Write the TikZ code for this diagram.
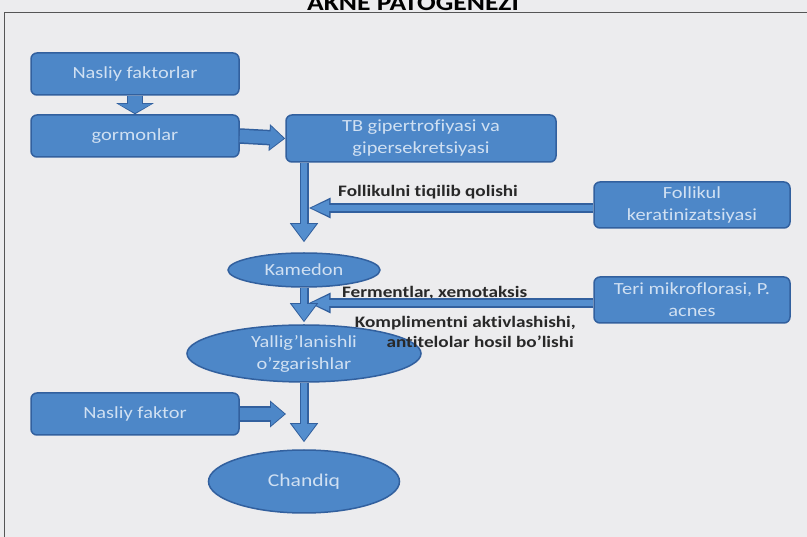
\documentclass[tikz,border=0pt]{standalone}
\usepackage{fontspec}
\setmainfont{Carlito}
\newfontfamily\sfw[FakeStretch=1.2,Ligatures=NoCommon]{Carlito}
\usetikzlibrary{shapes.geometric,arrows.meta}
\definecolor{bg}{RGB}{236,236,238}
\definecolor{boxfill}{RGB}{77,135,200}
\definecolor{boxline}{RGB}{50,96,158}
\definecolor{boxtext}{RGB}{208,224,242}
\definecolor{arrfill}{RGB}{84,142,206}
\definecolor{labeltext}{RGB}{40,40,40}
\definecolor{framecol}{RGB}{85,85,85}
\tikzset{
  bluebox/.style={draw=boxline, line width=1.5pt, fill=boxfill, rounded corners=6pt,
    text=boxtext, font=\sfw\fontsize{17}{22}\selectfont, align=center, inner sep=0pt},
  blueell/.style={ellipse, draw=boxline, line width=1.5pt, fill=boxfill,
    text=boxtext, font=\sfw\fontsize{17}{22}\selectfont, align=center, inner sep=0pt},
  lbl/.style={text=labeltext, font=\sfw\bfseries\fontsize{16}{18}\selectfont, inner sep=0pt},
  fatvout/.style={draw=boxline, line width=16.5pt, -{Triangle[length=11pt,width=37pt]}},
  fatvin/.style={draw=boxfill, line width=13.5pt, shorten >=1.3pt, -{Triangle[length=9pt,width=33pt]}},
  fathout/.style={draw=boxline, line width=15.5pt, -{Triangle[length=16pt,width=26pt]}},
  fathin/.style={draw=boxfill, line width=12.5pt, shorten >=1.5pt, -{Triangle[length=13.5pt,width=22pt]}},
  thinout/.style={draw=boxline, line width=9pt, -{Triangle[length=19pt,width=27pt]}},
  thinin/.style={draw=arrfill, line width=6pt, shorten >=1.5pt, -{Triangle[length=16.5pt,width=23pt]}},
  hthinout/.style={draw=boxline, line width=10.5pt, -{Triangle[length=22pt,width=19pt]}},
  hthinin/.style={draw=arrfill, line width=6.5pt, shorten >=2pt, -{Triangle[length=18.5pt,width=14.5pt]}},
}
\begin{document}
\begin{tikzpicture}[x=1pt,y=-1pt]
\useasboundingbox (0,0) rectangle (807,537);
\fill[bg] (0,0) rectangle (807,537);
\draw[framecol, line width=1.3pt] (4.5,537) -- (4.5,12.5) -- (807,12.5);
\node[anchor=base, text=black, font=\sfw\bfseries\fontsize{23}{23}\selectfont, inner sep=0pt] (title) at (413,11) {AKNE PATOGENEZI};

% nodes
\node[bluebox, minimum width=208pt, minimum height=42pt] (nf) at (135,74) {Nasliy faktorlar};
\node[bluebox, minimum width=208pt, minimum height=42pt] (gor) at (135,136) {gormonlar};
\node[bluebox, minimum width=270pt, minimum height=47pt] (tb) at (421,138.5) {TB gipertrofiyasi va\\gipersekretsiyasi};
\node[bluebox, minimum width=196pt, minimum height=46pt] (fol) at (692,205) {Follikul\\keratinizatsiyasi};
\node[bluebox, minimum width=196pt, minimum height=46pt] (teri) at (692,300) {Teri mikroflorasi, P.\\acnes};
\node[blueell, minimum width=152pt, minimum height=34pt] (kam) at (304,270) {Kamedon};
\node[blueell, minimum width=234pt, minimum height=57pt] (yal) at (304,353.5) {Yallig’lanishli\\o’zgarishlar};
\node[bluebox, minimum width=208pt, minimum height=42pt] (nf2) at (135,414) {Nasliy faktor};
\node[blueell, minimum width=191pt, minimum height=63pt, font=\sfw\fontsize{18}{22}\selectfont] (ch) at (304,481.5) {Chandiq};
\coordinate (nfend) at (286,414);

% labels
\node[lbl] (l1) at (428,192) {Follikulni tiqilib qolishi};
\node[lbl, anchor=west] (l2) at (342,293) {Fermentlar, xemotaksis};
\node[lbl, anchor=east] (l3) at (576,323) {Komplimentni aktivlashishi,};
\node[lbl, anchor=east] (l4) at (574,342) {antitelolar hosil bo’lishi};

% fat block arrows
\draw[fatvout] (nf.south) -- (gor.north);
\draw[fatvin] (nf.south) -- (gor.north);
\draw[fathout] (gor.east) -- (tb.west);
\draw[fathin] (gor.east) -- (tb.west);
\draw[fathout] (nf2.east) -- (nfend);
\draw[fathin] (nf2.east) -- (nfend);

% horizontal arrows
\draw[hthinout, shorten >=4.5pt] ([yshift=-3pt]fol.west) -- ([yshift=-3pt]fol.west -| kam.north);
\draw[hthinin, shorten >=6.5pt] ([yshift=-3pt]fol.west) -- ([yshift=-3pt]fol.west -| kam.north);
\draw[hthinout, shorten >=4.5pt] ([yshift=-3pt]teri.west) -- ([yshift=-3pt]teri.west -| kam.north);
\draw[hthinin, shorten >=6.5pt] ([yshift=-3pt]teri.west) -- ([yshift=-3pt]teri.west -| kam.north);

% vertical arrows
\draw[thinout, shorten >=10pt] (tb.south -| kam.north) -- (kam.north);
\draw[thinin, shorten >=11.5pt] (tb.south -| kam.north) -- (kam.north);
\draw[thinout, shorten >=2pt] (kam.south) -- (yal.north);
\draw[thinin, shorten >=3.5pt] (kam.south) -- (yal.north);
\draw[thinout, shorten >=7pt] (yal.south) -- (ch.north);
\draw[thinin, shorten >=8.5pt] (yal.south) -- (ch.north);
\end{tikzpicture}
\end{document}
